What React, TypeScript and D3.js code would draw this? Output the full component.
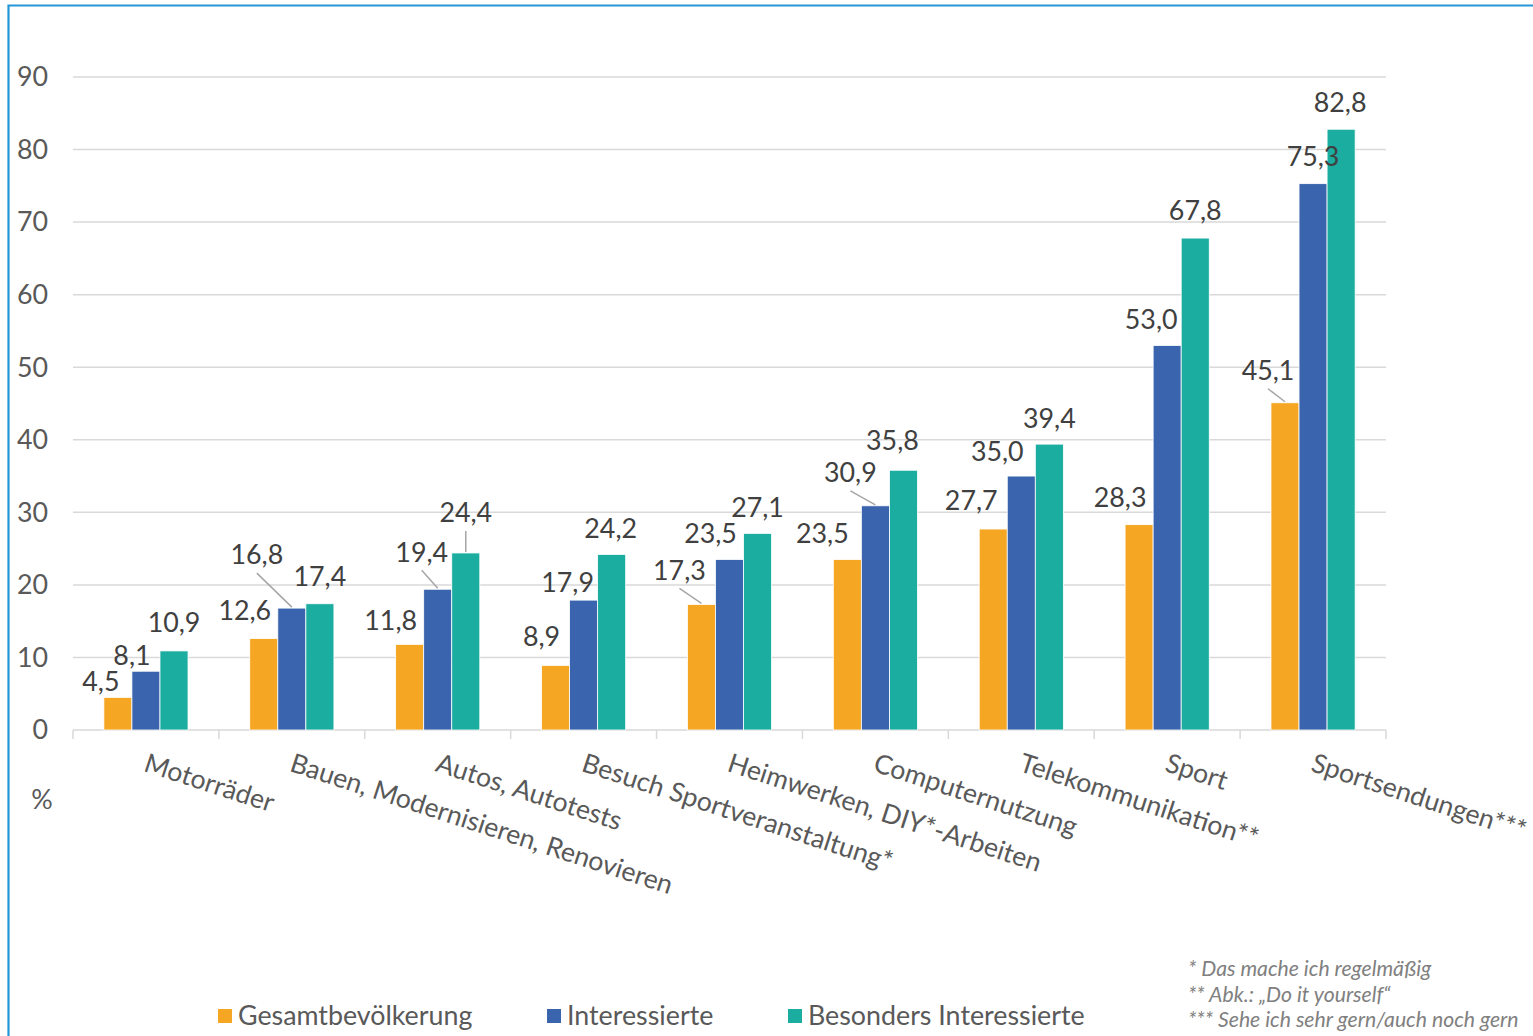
import * as d3 from 'd3';
import React from 'react';

const categories = [
  'Motorräder',
  'Bauen, Modernisieren, Renovieren',
  'Autos, Autotests',
  'Besuch Sportveranstaltung*',
  'Heimwerken, DIY*-Arbeiten',
  'Computernutzung',
  'Telekommunikation**',
  'Sport',
  'Sportsendungen***',
];

const seriesNames = ['Gesamtbevölkerung', 'Interessierte', 'Besonders Interessierte'];

const gesamt = [4.5, 12.6, 11.8, 8.9, 17.3, 23.5, 27.7, 28.3, 45.1];
const interessierte = [8.1, 16.8, 19.4, 17.9, 23.5, 30.9, 35.0, 53.0, 75.3];
const besonders = [10.9, 17.4, 24.4, 24.2, 27.1, 35.8, 39.4, 67.8, 82.8];

const yTicks = [0, 10, 20, 30, 40, 50, 60, 70, 80, 90];

const footnotes = [
  '* Das mache ich regelmäßig',
  '** Abk.: „Do it yourself“',
  '*** Sehe ich sehr gern/auch noch gern',
];

// label nudges (dx from bar centre, dy of label centre from bar top), like the hand-moved Excel labels
const labelShift = [
  [[-17, -16], [-19, -28], [-19, -24], [-14, -29], [-22, -34], [-25, -26], [-22, -28], [-19, -27], [-17, -32]],
  [[-14, -16], [-35, -53], [-16, -37], [-16, -18], [-19, -26], [-25, -33], [-24, -24], [-16, -26], [0, -27]],
  [[0, -28], [0, -27], [0, -40], [-1, -26], [0, -26], [-11, -30], [0, -26], [0, -27], [-1, -27]],
];
const leaders = [
  [false, false, false, false, true, false, false, false, true],
  [false, true, true, false, false, true, false, false, false],
  [false, false, true, false, false, false, false, false, false],
];

const colors = ['#f5a623', '#3a64ad', '#1aada0'];
const font = 'Lato, "Noto Sans", sans-serif';
const fs = 26.8;

const de = d3.formatLocale({ decimal: ',', thousands: '.', grouping: [3], currency: ['', '€'] });
const fmt = de.format('.1f');

export default function App() {
  const width = 1533;
  const height = 1036;
  const values = [gesamt, interessierte, besonders];

  const x = d3.scaleBand<string>().domain(categories).range([73, 1386]);
  const xs = d3
    .scaleBand<number>()
    .domain([0, 1, 2])
    .range([0, x.bandwidth()])
    .paddingOuter(1.1);
  const y = d3.scaleLinear().domain([0, 90]).range([730, 77]);

  const legendX = [218, 547, 788];

  return (
    <svg
      width={width}
      height={height}
      style={{ position: 'absolute', left: 0, top: 0, background: '#fff' }}
      fontFamily={font}
    >
      <path d={`M8.5,${height} V5.5 H${width}`} fill="none" stroke="#2596d8" strokeWidth={2.2} />

      {yTicks.map((t) => (
        <g key={`grid-${t}`}>
          <line x1={73} x2={1386} y1={y(t)} y2={y(t)} stroke="#d9d9d9" strokeWidth={1.5} />
          <text x={48} y={y(t)} dy="0.35em" textAnchor="end" fontSize={fs} fill="#595959">
            {t}
          </text>
        </g>
      ))}
      {[...categories.map((c) => x(c) as number), 1386].map((tx, i) => (
        <line key={`tick-${i}`} x1={tx} x2={tx} y1={y(0)} y2={y(0) + 9} stroke="#d9d9d9" strokeWidth={1.5} />
      ))}

      {values.map((vals, s) => (
        <g key={`series-${s}`} fill={colors[s]}>
          {vals.map((v, i) => {
            const bx = (x(categories[i]) as number) + (xs(s) as number);
            return (
              <rect
                key={`bar-${i}`}
                x={bx}
                y={y(v)}
                width={xs.bandwidth()}
                height={y(0) - y(v)}
                stroke="#fff"
                strokeWidth={0.8}
              />
            );
          })}
        </g>
      ))}

      {values.map((vals, s) =>
        vals.map((v, i) => {
          const cx = (x(categories[i]) as number) + (xs(s) as number) + xs.bandwidth() / 2;
          const [dx, dy] = labelShift[s][i];
          const lx = cx + dx;
          const ly = y(v) + dy;
          return (
            <g key={`lab-${s}-${i}`}>
              {leaders[s][i] && (
                <line x1={lx} y1={ly + 18} x2={cx} y2={y(v) - 1} stroke="#a6a6a6" strokeWidth={1.5} />
              )}
              <text x={lx} y={ly} dy="0.35em" textAnchor="middle" fontSize={fs} fill="#404040">
                {fmt(v)}
              </text>
            </g>
          );
        }),
      )}

      {categories.map((c) => (
        <text
          key={`cat-${c}`}
          transform={`translate(${(x(c) as number) + x.bandwidth() / 2 + 3},751) rotate(18)`}
          dy="0.78em"
          fontSize={26.6}
          fill="#595959"
        >
          {c}
        </text>
      ))}

      <text x={42} y={800} dy="0.35em" textAnchor="middle" fontSize={fs} fill="#595959">
        %
      </text>

      {seriesNames.map((name, s) => (
        <g key={`leg-${name}`}>
          <rect x={legendX[s]} y={1009} width={14} height={14} fill={colors[s]} />
          <text x={legendX[s] + 20} y={1016} dy="0.35em" fontSize={fs} fill="#595959">
            {name}
          </text>
        </g>
      ))}

      {footnotes.map((f, i) => (
        <text key={`fn-${i}`} x={1188} y={969 + i * 25.5} dy="0.35em" fontSize={21.2} fontStyle="italic" fill="#808080">
          {f}
        </text>
      ))}
    </svg>
  );
}
